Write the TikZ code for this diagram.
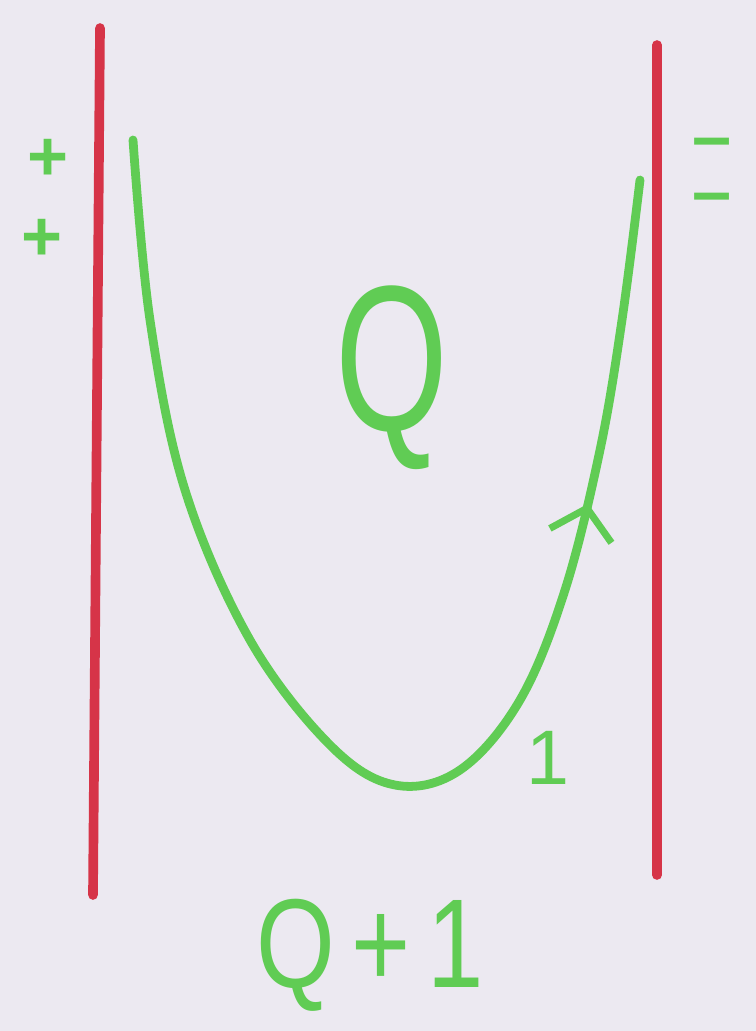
\documentclass[tikz,border=0pt]{standalone}
\usepackage{fontspec}
\setmainfont{Liberation Sans}
\usetikzlibrary{arrows.meta, decorations.markings}
\definecolor{paper}{RGB}{236,233,241}
\definecolor{plate}{RGB}{214,52,72}
\definecolor{chalk}{RGB}{96,204,84}

\begin{document}
\begin{tikzpicture}[x=0.02cm, y=-0.02cm, line cap=round,
  chargemark/.style={chalk, inner sep=0pt, font=\fontsize{40}{40}\selectfont\bfseries},
  bigq/.style={chalk, xscale=0.7, font=\fontsize{118}{118}\selectfont},
  pathline/.style={chalk, line width=5pt,
    postaction={decorate},
    decoration={markings, mark=at position 0.77 with {\arrow[line width=4pt]{Straight Barb[length=16pt, width=36pt]}}}}]
  % paper
  \fill[paper] (0,0) rectangle (756,1031);
  \useasboundingbox (0,0) rectangle (756,1031);

  % capacitor plates
  \draw[plate, line width=5.5pt] (100,28) -- (93,895);
  \draw[plate, line width=5.5pt] (657,45) -- (657,875);

  % charges
  \node[chargemark] (plusA) at (48,160) {+};
  \node[chargemark] (plusB) at (42,240) {+};
  \node[chargemark, align=center, font=\fontsize{40}{31}\selectfont\bfseries] (minus) at (712,177) {\textendash\\\textendash};

  % path of the charge
  \draw[pathline] plot[smooth, tension=0.6] coordinates
    {(133,140) (150,320) (185,490) (250,640) (330,745) (395,785) (460,770) (520,700) (565,590) (600,450) (622,320) (640,180)};

  % labels
  \node[bigq] (qlab) at (392,378) {Q};
  \node[chalk, font=\fontsize{44}{44}\selectfont] (one) at (548,758) {1};
  \node[chalk, xscale=0.8, font=\fontsize{72}{72}\selectfont] (qone) at (370,955) {Q\,+\,1};
\end{tikzpicture}
\end{document}
